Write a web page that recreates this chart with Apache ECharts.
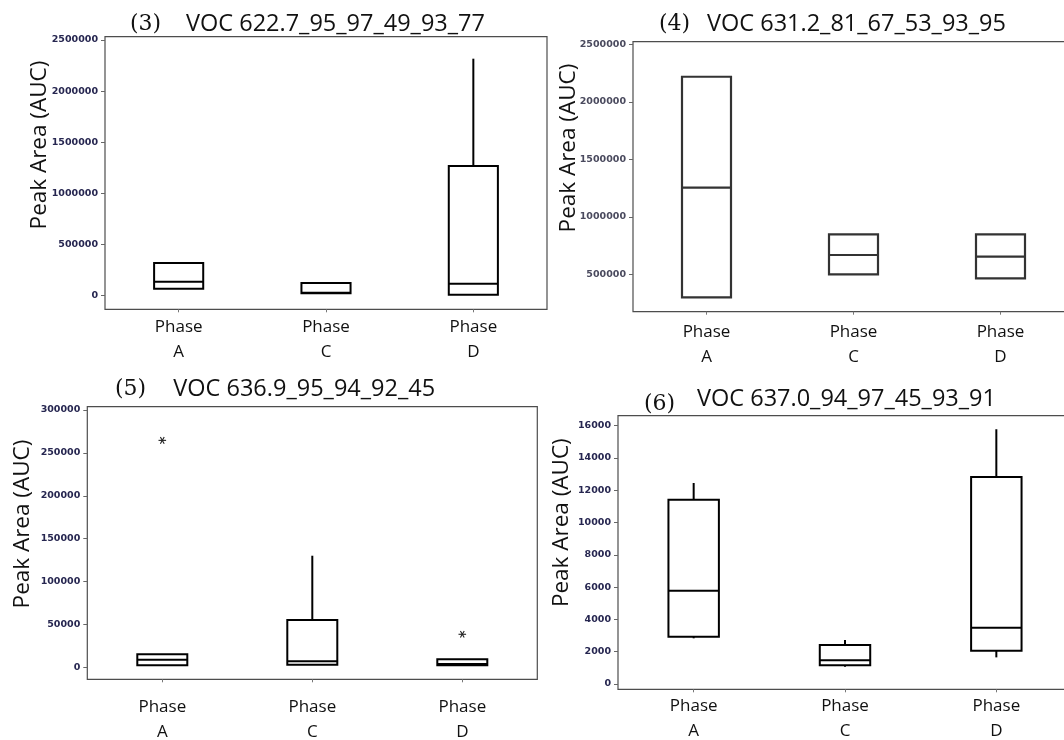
<!DOCTYPE html>
<html>
<head>
<meta charset="utf-8">
<title>VOC peak areas by phase</title>
<script src="https://cdn.jsdelivr.net/npm/echarts@6/dist/echarts.min.js"></script>
<style>
  html, body { margin: 0; padding: 0; background: #fff; }
  #chart { width: 1064px; height: 740px; }
</style>
</head>
<body>
<div id="chart"></div>
<script>
// Phase categories shared by all four panels
const phaseLabels = ['Phase\nA', 'Phase\nC', 'Phase\nD'];

// Box statistics per phase: [min, Q1, median, Q3, max]
const voc622Stats = [
  [68500, 68500, 137000, 320000, 320000],
  [23000, 23000, 30000, 124000, 124000],
  [10000, 10000, 117000, 1267000, 2317000]
];
const voc631Stats = [
  [300000, 300000, 1253000, 2218000, 2218000],
  [500000, 500000, 668000, 848000, 848000],
  [465000, 465000, 653000, 848000, 848000]
];
const voc636Stats = [
  [2300, 2300, 8900, 15200, 15200],
  [3000, 3000, 7000, 55100, 130100],
  [2300, 2300, 3800, 9300, 9300]
];
const voc637Stats = [
  [2830, 2930, 5780, 11420, 12450],
  [1070, 1160, 1470, 2420, 2730],
  [1650, 2060, 3490, 12820, 15780]
];

// Outliers: [phase index, value]
const voc636Outliers = [
  [0, 264600],
  [2, 38500]
];

// Tick labels on the value axes
const ticksMillions = [0, 500000, 1000000, 1500000, 2000000, 2500000];
const ticks631 = [500000, 1000000, 1500000, 2000000, 2500000];
const ticks636 = [0, 50000, 100000, 150000, 200000, 250000, 300000];
const ticks637 = [0, 2000, 4000, 6000, 8000, 10000, 12000, 14000, 16000];

// Panel titles
const panelTags = ['(3)', '(4)', '(5)', '(6)'];
const panelNames = [
  'VOC 622.7_95_97_49_93_77',
  'VOC 631.2_81_67_53_93_95',
  'VOC 636.9_95_94_92_45',
  'VOC 637.0_94_97_45_93_91'
];
const yName = 'Peak Area (AUC)';

// ---- layout of the four panels ----
const panels = [
  { grid: { left: 105, top: 36.7, width: 442, height: 272.6 }, min: -133000, max: 2532000,
    ticks: ticksMillions, stats: voc622Stats, labelMargin: 5, stroke: '#000', lw: 2,
    tickColor: '#262650', tag: [130, 24], name: [186, 24], yname: [40, 145] },
  { grid: { left: 633, top: 41.7, width: 441, height: 270 }, min: 174800, max: 2522600,
    ticks: ticks631, stats: voc631Stats, labelMargin: 7.5, stroke: '#333', lw: 2.2,
    tickColor: '#4a4a5e', tag: [659, 24], name: [707, 24], yname: [569, 148] },
  { grid: { left: 87.3, top: 406.7, width: 450, height: 272.6 }, min: -13990, max: 303850,
    ticks: ticks636, stats: voc636Stats, outliers: voc636Outliers, labelMargin: 15, stroke: '#000', lw: 2,
    tickColor: '#262650', tag: [115, 389.5], name: [173.3, 389.5], yname: [22.5, 524] },
  { grid: { left: 618, top: 415.7, width: 454, height: 273.6 }, min: -328, max: 16619,
    ticks: ticks637, stats: voc637Stats, labelMargin: 4, stroke: '#000', lw: 2,
    tickColor: '#262650', tag: [644, 404], name: [697, 399.5], yname: [561.7, 522.7] }
];

const BOX_RATIO = 1 / 3;

function makeBoxRenderer(stroke, lw) {
  return function (params, api) {
    const cat = api.value(0);
    const lo = api.value(1), q1 = api.value(2), med = api.value(3), q3 = api.value(4), hi = api.value(5);
    const w = api.size([1, 0])[0] * BOX_RATIO;
    const pLo = api.coord([cat, lo]);
    const pQ1 = api.coord([cat, q1]);
    const pMed = api.coord([cat, med]);
    const pQ3 = api.coord([cat, q3]);
    const pHi = api.coord([cat, hi]);
    const cx = pQ1[0];
    const lineStyle = { stroke: stroke, lineWidth: lw, fill: null };
    const children = [];
    if (hi > q3) {
      children.push({ type: 'line', shape: { x1: cx, y1: pQ3[1], x2: cx, y2: pHi[1] }, style: lineStyle });
    }
    if (lo < q1) {
      children.push({ type: 'line', shape: { x1: cx, y1: pQ1[1], x2: cx, y2: pLo[1] }, style: lineStyle });
    }
    children.push({
      type: 'rect',
      shape: { x: cx - w / 2, y: pQ3[1], width: w, height: pQ1[1] - pQ3[1] },
      style: { stroke: stroke, lineWidth: lw, fill: '#fff' }
    });
    children.push({
      type: 'line',
      shape: { x1: cx - w / 2, y1: pMed[1], x2: cx + w / 2, y2: pMed[1] },
      style: lineStyle
    });
    return { type: 'group', children: children };
  };
}

// Outlier marker: a six-armed asterisk with a horizontal bar
function renderAsterisk(params, api) {
  const p = api.coord([api.value(0), api.value(1)]);
  const r = 3.8;
  const style = { stroke: '#222', lineWidth: 1.1 };
  const arms = [0, 60, -60].map(function (deg) {
    const a = deg * Math.PI / 180;
    const dx = Math.cos(a) * r, dy = Math.sin(a) * r;
    return { type: 'line', shape: { x1: p[0] - dx, y1: p[1] - dy, x2: p[0] + dx, y2: p[1] + dy }, style: style };
  });
  return { type: 'group', children: arms };
}

const grids = [], xAxes = [], yAxes = [], series = [], graphics = [];

panels.forEach(function (pn, i) {
  grids.push(Object.assign({
    show: true, borderColor: '#4d4d4d', borderWidth: 1.2, backgroundColor: '#fff',
    containLabel: false, outerBoundsMode: 'none'
  }, pn.grid));

  xAxes.push({
    type: 'category', gridIndex: i, data: phaseLabels, boundaryGap: true, position: 'bottom',
    axisLine: { show: false, onZero: false },
    axisTick: { show: true, alignWithLabel: true, length: 3, inside: false, lineStyle: { color: '#777', width: 1 } },
    axisLabel: {
      margin: pn.labelMargin, fontFamily: 'Open Sans', fontSize: 17, color: '#111',
      lineHeight: 25, interval: 0
    },
    splitLine: { show: false }
  });

  yAxes.push({
    type: 'value', gridIndex: i, min: pn.min, max: pn.max,
    axisLine: { show: false, onZero: false },
    axisTick: { show: true, length: 4, customValues: pn.ticks, lineStyle: { color: '#666', width: 1 } },
    axisLabel: {
      customValues: pn.ticks, margin: 7, fontFamily: 'DejaVu Sans', fontWeight: 'bold',
      fontSize: 9.5, color: pn.tickColor,
      formatter: function (v) { return String(v); }
    },
    splitLine: { show: false }
  });

  series.push({
    type: 'custom', xAxisIndex: i, yAxisIndex: i,
    renderItem: makeBoxRenderer(pn.stroke, pn.lw),
    encode: { x: 0, y: [1, 2, 3, 4, 5] },
    data: pn.stats.map(function (s, k) { return [k].concat(s); }),
    silent: true, clip: false
  });

  if (pn.outliers) {
    series.push({
      type: 'custom', xAxisIndex: i, yAxisIndex: i,
      renderItem: renderAsterisk,
      encode: { x: 0, y: 1 },
      data: pn.outliers,
      silent: true
    });
  }

  graphics.push({
    type: 'text', x: pn.tag[0], y: pn.tag[1], silent: true,
    style: { text: panelTags[i], font: '22px "DejaVu Serif"', fill: '#111', align: 'left', verticalAlign: 'middle' }
  });
  graphics.push({
    type: 'text', x: pn.name[0], y: pn.name[1], silent: true,
    style: { text: panelNames[i], font: '23.5px "Open Sans"', fill: '#111', align: 'left', verticalAlign: 'middle' }
  });
  graphics.push({
    type: 'text', x: pn.yname[0], y: pn.yname[1], rotation: Math.PI / 2, silent: true,
    style: { text: yName, font: '22.5px "Open Sans"', fill: '#111', align: 'center', verticalAlign: 'middle' }
  });
});

const chart = echarts.init(document.getElementById('chart'), null, { renderer: 'canvas' });
chart.setOption({
  animation: false,
  backgroundColor: '#fff',
  grid: grids,
  xAxis: xAxes,
  yAxis: yAxes,
  series: series,
  graphic: graphics
});
</script>
</body>
</html>
